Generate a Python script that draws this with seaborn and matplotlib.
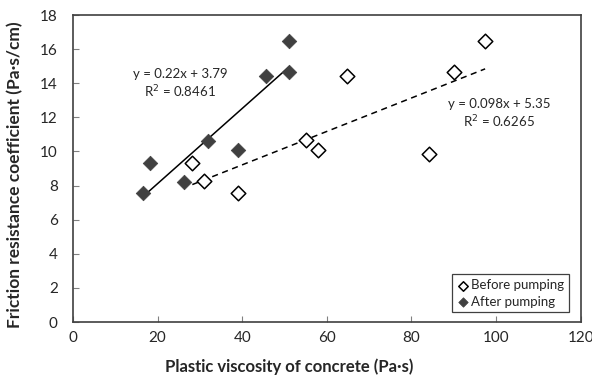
import matplotlib
matplotlib.use("Agg")
import matplotlib.pyplot as plt
import seaborn as sns
import pandas as pd

# plastic viscosity (Pa.s) and friction coefficient (Pa.s/cm)
before_visc = [28.2, 31.0, 38.9, 55.0, 58.0, 64.7, 84.1, 90.0, 97.4]
before_fric = [9.3, 8.25, 7.55, 10.65, 10.1, 14.45, 9.85, 14.65, 16.5]
after_visc = [16.6, 18.2, 26.3, 32.0, 39.1, 45.7, 51.0, 51.0]
after_fric = [7.55, 9.3, 8.2, 10.6, 10.1, 14.45, 16.5, 14.65]

before_eq = "y = 0.098x + 5.35\nR$^2$ = 0.6265"
after_eq = "y = 0.22x + 3.79\nR$^2$ = 0.8461"

before = pd.DataFrame({"visc": before_visc, "fric": before_fric})
after = pd.DataFrame({"visc": after_visc, "fric": after_fric})

sns.set_style("white")
plt.rcParams["font.family"] = ["Lato", "DejaVu Sans"]

fig = plt.figure(figsize=(5.92, 3.89), dpi=100)
ax = fig.add_axes([0.1233, 0.1722, 0.8577, 0.7892])

# trend lines
sns.regplot(data=after, x="visc", y="fric", ci=None, scatter=False, ax=ax,
            line_kws={"color": "black", "lw": 1.1})
sns.regplot(data=before, x="visc", y="fric", ci=None, scatter=False, ax=ax,
            line_kws={"color": "black", "lw": 1.1, "ls": (0, (4, 3))})

sns.scatterplot(data=before, x="visc", y="fric", marker="D", s=55,
                facecolor="white", edgecolor="black", linewidth=1.1,
                label="Before pumping", ax=ax, zorder=3)
sns.scatterplot(data=after, x="visc", y="fric", marker="D", s=55,
                color="#404040", edgecolor="#404040", linewidth=0.5,
                label="After pumping", ax=ax, zorder=3)

ax.text(25.3, 13.95, after_eq, ha="center", va="center", fontsize=9.5, linespacing=1.3)
ax.text(100.7, 12.2, before_eq, ha="center", va="center", fontsize=9.5, linespacing=1.3)

ax.set_xlim(0, 120)
ax.set_ylim(0, 18)
ax.set_xticks(range(0, 121, 20))
ax.set_yticks(range(0, 19, 2))
ax.tick_params(direction="in", length=4, width=0.8, color="#808080",
               labelsize=11, bottom=True, left=True)
ax.tick_params(axis="x", pad=6.5)
ax.tick_params(axis="y", pad=11)
for sp in ax.spines.values():
    sp.set_color("#404040")
    sp.set_linewidth(1.2)

ax.set_xlabel("Plastic viscosity of concrete (Pa·s)", fontsize=12,
              fontweight="bold")
ax.set_ylabel("Friction resistance coefficient (Pa·s/cm)", fontsize=12.5,
              fontweight="bold")
ax.xaxis.set_label_coords(0.425, -0.12)
ax.yaxis.set_label_coords(-0.097, 0.48)

leg = ax.legend(loc="lower right", fontsize=9.5, markerscale=0.65,
                handletextpad=0.1, handlelength=1.0, borderpad=0.35,
                labelspacing=0.35, fancybox=False, framealpha=1,
                bbox_to_anchor=(0.99, 0.01))
leg.get_frame().set_edgecolor("#404040")
leg.get_frame().set_linewidth(0.9)

fig.savefig("out.png", dpi=100)
